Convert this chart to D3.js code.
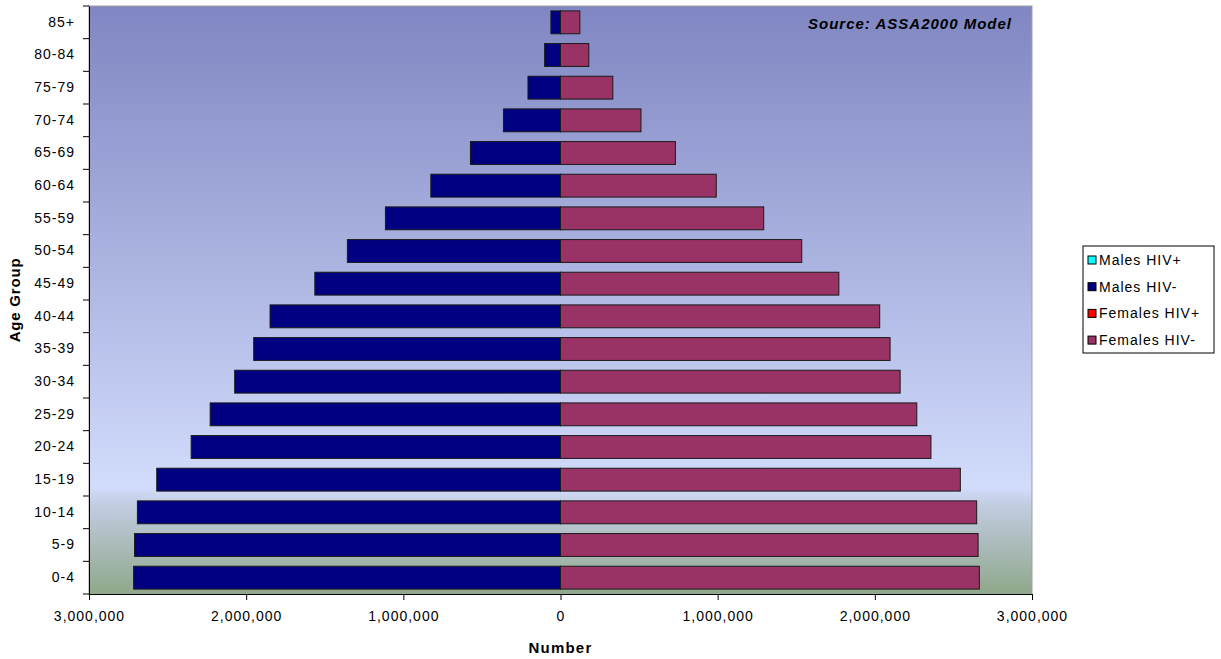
<!DOCTYPE html>
<html>
<head>
<meta charset="utf-8">
<script src="https://cdn.jsdelivr.net/npm/d3@7"></script>
<style>
  body { margin: 0; background: #fff; }
  svg text { font-family: "Liberation Sans", Arial, sans-serif; }
</style>
</head>
<body>
<div id="plot"></div>
<script>
// age groups, youngest first
const ageGroups = ["0-4", "5-9", "10-14", "15-19", "20-24", "25-29", "30-34", "35-39", "40-44",
  "45-49", "50-54", "55-59", "60-64", "65-69", "70-74", "75-79", "80-84", "85+"];

// population counts
const malesHivPos = [0, 0, 0, 0, 0, 0, 0, 0, 0, 0, 0, 0, 0, 0, 0, 0, 0, 0];
const malesHivNeg = [2716000, 2710000, 2692000, 2569000, 2350000, 2229000, 2073000, 1952000, 1848000,
  1563000, 1356000, 1114000, 825000, 573000, 363000, 207000, 101000, 61000];
const femalesHivPos = [0, 0, 0, 0, 0, 0, 0, 0, 0, 0, 0, 0, 0, 0, 0, 0, 0, 0];
const femalesHivNeg = [2665000, 2657000, 2648000, 2544000, 2357000, 2267000, 2161000, 2097000, 2031000,
  1771000, 1535000, 1293000, 991000, 731000, 512000, 333000, 180000, 123000];

const xTicks = [-3000000, -2000000, -1000000, 0, 1000000, 2000000, 3000000];
const seriesNames = ["Males HIV+", "Males HIV-", "Females HIV+", "Females HIV-"];
const seriesColors = ["#00ffff", "#000080", "#ff0000", "#993366"];

const width = 1221, height = 659;
const plot = { left: 89, top: 6, right: 1032, bottom: 594 };

const svg = d3.select("#plot").append("svg")
  .attr("width", width)
  .attr("height", height);

// background gradient of the plot area
const grad = svg.append("defs").append("linearGradient")
  .attr("id", "bg").attr("x1", 0).attr("y1", 0).attr("x2", 0).attr("y2", 1);
[[0, "#7f86c2"], [0.82, "#d2dcfb"], [0.845, "#c3cde3"], [1, "#8fa78a"]].forEach(s => {
  grad.append("stop").attr("offset", s[0]).attr("stop-color", s[1]);
});

svg.append("rect")
  .attr("x", plot.left).attr("y", plot.top)
  .attr("width", plot.right - plot.left).attr("height", plot.bottom - plot.top)
  .attr("fill", "url(#bg)")
  .attr("stroke", "#a0a0a0");

const x = d3.scaleLinear()
  .domain([-3000000, 3000000])
  .range([plot.left, plot.right]);

const y = d3.scaleBand()
  .domain(ageGroups.slice().reverse())
  .range([plot.top, plot.bottom])
  .paddingInner(0.3)
  .paddingOuter(0.15);

// build rows: each series as [start, end] pairs away from zero
const rows = ageGroups.map((g, i) => ({
  group: g,
  segs: [
    { s: 0, a: 0, b: -malesHivPos[i] },
    { s: 1, a: -malesHivPos[i], b: -malesHivPos[i] - malesHivNeg[i] },
    { s: 2, a: 0, b: femalesHivPos[i] },
    { s: 3, a: femalesHivPos[i], b: femalesHivPos[i] + femalesHivNeg[i] }
  ]
}));

svg.append("g").selectAll("g")
  .data(rows)
  .join("g")
  .selectAll("rect")
  .data(d => d.segs.filter(s => s.a !== s.b).map(s => Object.assign({ group: d.group }, s)))
  .join("rect")
  .attr("x", d => x(Math.min(d.a, d.b)))
  .attr("y", d => y(d.group))
  .attr("width", d => Math.abs(x(d.b) - x(d.a)))
  .attr("height", y.bandwidth())
  .attr("fill", d => seriesColors[d.s])
  .attr("stroke", "#1a1a1a")
  .attr("stroke-width", 1);

// y axis: labels in band centres, ticks between categories
const yAxis = svg.append("g")
  .attr("transform", `translate(${plot.left},0)`)
  .call(d3.axisLeft(y).tickSize(0).tickPadding(14));
yAxis.select(".domain").attr("stroke", "#000");
yAxis.selectAll("text").attr("font-size", 14).attr("letter-spacing", 1).attr("fill", "#000");

const bounds = ageGroups.map(g => y(g) - (y.step() - y.bandwidth()) / 2);
bounds.push(plot.bottom);
svg.append("g").selectAll("line")
  .data(bounds)
  .join("line")
  .attr("x1", plot.left - 6).attr("x2", plot.left)
  .attr("y1", d => d).attr("y2", d => d)
  .attr("stroke", "#000");

// x axis
const fmt = d3.format(",");
const xAxis = svg.append("g")
  .attr("transform", `translate(0,${plot.bottom})`)
  .call(d3.axisBottom(x).tickValues(xTicks).tickSize(6).tickPadding(11)
    .tickFormat(d => fmt(Math.abs(d))));
xAxis.select(".domain").attr("stroke", "#000");
xAxis.selectAll("line").attr("stroke", "#000");
xAxis.selectAll("text").attr("font-size", 14).attr("letter-spacing", 1).attr("fill", "#000");

// axis titles
svg.append("text")
  .attr("x", x(0)).attr("y", 653)
  .attr("text-anchor", "middle")
  .attr("font-weight", 700).attr("font-size", 15).attr("letter-spacing", 1.2)
  .text("Number");

svg.append("text")
  .attr("transform", `translate(20,${(plot.top + plot.bottom) / 2}) rotate(-90)`)
  .attr("text-anchor", "middle")
  .attr("font-weight", 700).attr("font-size", 15).attr("letter-spacing", 0.8)
  .text("Age Group");

svg.append("text")
  .attr("x", 1012).attr("y", 29)
  .attr("text-anchor", "end")
  .attr("font-weight", 700).attr("font-style", "italic").attr("font-size", 15).attr("letter-spacing", 1)
  .text("Source: ASSA2000 Model");

// legend
const legend = svg.append("g").attr("transform", "translate(1083,246)");
legend.append("rect")
  .attr("width", 131).attr("height", 107)
  .attr("fill", "#fff").attr("stroke", "#000");
const items = legend.selectAll("g.item")
  .data(seriesNames)
  .join("g")
  .attr("class", "item")
  .attr("transform", (d, i) => `translate(5,${14 + i * 26.7})`);
items.append("rect")
  .attr("x", 0).attr("y", -4)
  .attr("width", 8).attr("height", 8)
  .attr("fill", (d, i) => seriesColors[i])
  .attr("stroke", "#000");
items.append("text")
  .attr("x", 11).attr("y", 5)
  .attr("font-size", 14).attr("letter-spacing", 1)
  .text(d => d);
</script>
</body>
</html>
